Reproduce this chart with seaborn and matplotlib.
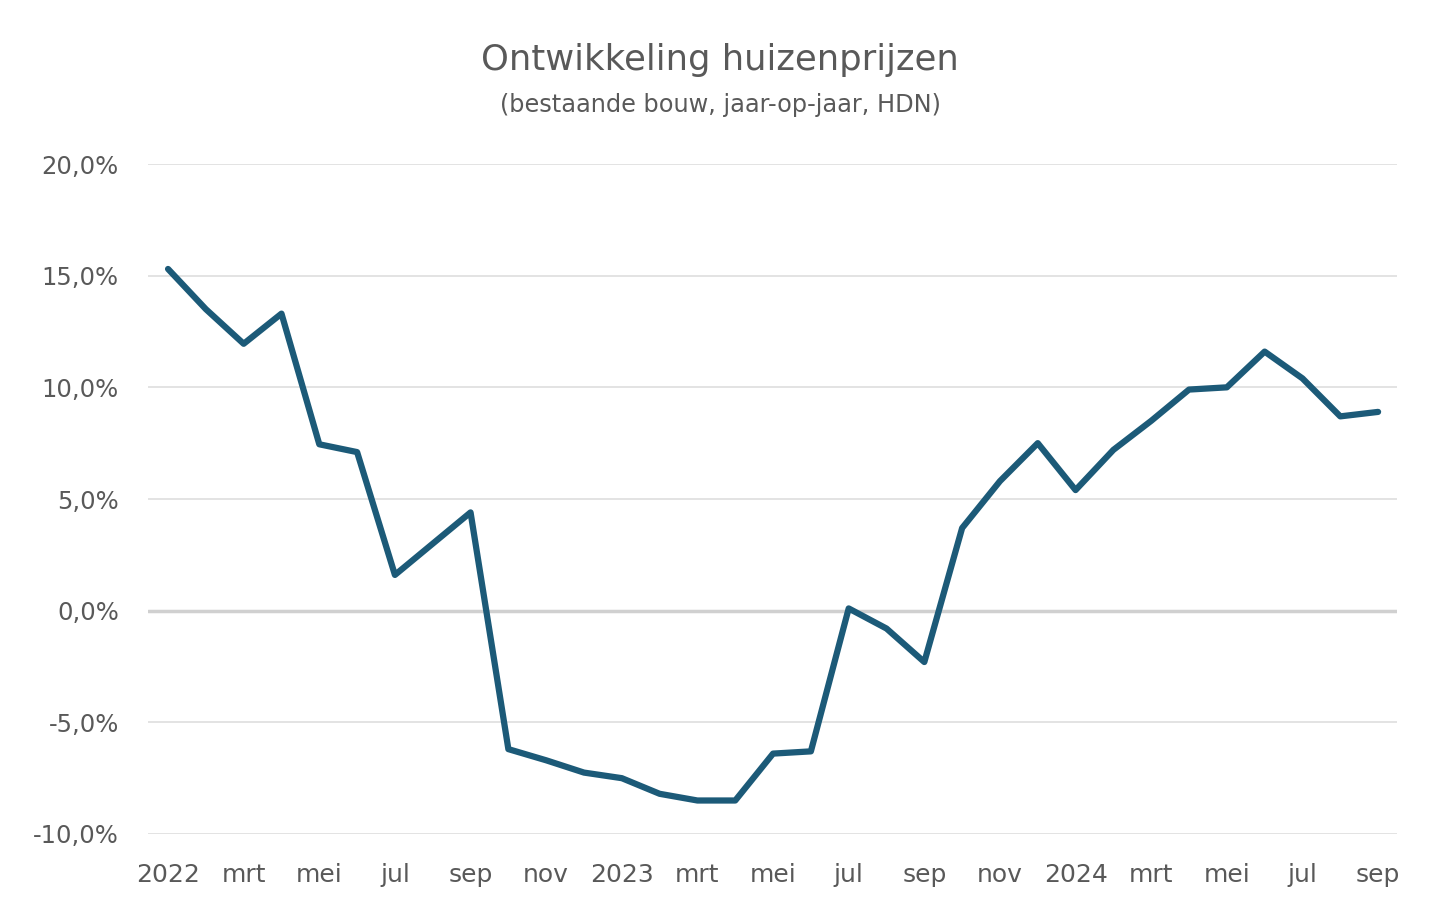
import seaborn as sns
import matplotlib.pyplot as plt
import pandas as pd
import numpy as np

# maanden jan 2022 t/m sep 2024
maanden = ['2022', 'feb', 'mrt', 'apr', 'mei', 'jun', 'jul', 'aug', 'sep', 'okt', 'nov', 'dec',
           '2023', 'feb', 'mrt', 'apr', 'mei', 'jun', 'jul', 'aug', 'sep', 'okt', 'nov', 'dec',
           '2024', 'feb', 'mrt', 'apr', 'mei', 'jun', 'jul', 'aug', 'sep']

# jaar-op-jaar prijsontwikkeling (%)
groei = [15.3, 13.5, 11.95, 13.3, 7.45, 7.1, 1.6, 3.0, 4.4, -6.2, -6.7, -7.25,
         -7.5, -8.2, -8.5, -8.5, -6.4, -6.3, 0.1, -0.8, -2.3, 3.7, 5.8, 7.5,
         5.4, 7.2, 8.5, 9.9, 10.0, 11.6, 10.4, 8.7, 8.9]

yticks = [-10, -5, 0, 5, 10, 15, 20]

df = pd.DataFrame({'idx': np.arange(len(groei)), 'groei': groei})

sns.set_style('white')
plt.rcParams['font.family'] = ['DejaVu Sans']

fig = plt.figure(figsize=(14.4, 9.17), dpi=100)
ax = fig.add_axes([148 / 1440, 1 - 834 / 917, (1397 - 148) / 1440, (834 - 164) / 917])

# rasterlijnen
for y in yticks:
    if y == 0:
        ax.axhline(y, color='#d0d0d0', lw=2.5, zorder=1)
    else:
        ax.axhline(y, color='#dedede', lw=1.2, zorder=1)

sns.lineplot(data=df, x='idx', y='groei', color='#1c5a78', lw=4.5, ax=ax, zorder=3)

ax.set_xlim(-0.53, len(groei) - 0.5)
ax.set_ylim(-10, 20)
ax.set_yticks(yticks)
ax.set_yticklabels([f'{v:.1f}%'.replace('.', ',') for v in yticks])
ax.set_xticks(np.arange(0, len(groei), 2))
ax.set_xticklabels(maanden[::2])
ax.tick_params(axis='both', length=0, labelsize=18, labelcolor='#595959')
ax.tick_params(axis='y', labelsize=17.5, pad=21)
ax.tick_params(axis='x', pad=21)
ax.set_xlabel('')
ax.set_ylabel('')
for s in ax.spines.values():
    s.set_visible(False)

fig.text(0.5, 1 - 60 / 917, 'Ontwikkeling huizenprijzen', ha='center', va='center',
         fontsize=25.5, color='#595959')
fig.text(0.5, 1 - 105 / 917, '(bestaande bouw, jaar-op-jaar, HDN)', ha='center', va='center',
         fontsize=17.3, color='#595959')

fig.savefig('out.png', dpi=100)
